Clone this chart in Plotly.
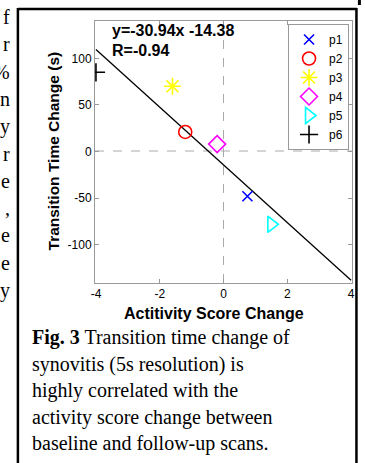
import plotly.graph_objects as go
import numpy as np

# ---- data ----
patients = ["p1", "p2", "p3", "p4", "p5", "p6"]
score_change = [0.75, -1.2, -1.6, -0.2, 1.5, -4.0]
time_change = [-48, 21, 70, 8, -78, 85]
colors = ["#0000ff", "#ff0000", "#ffff00", "#ff00ff", "#00ffff", "#000000"]
symbols = ["x-thin-open", "circle-open", "asterisk-open", "diamond-open",
           "triangle-right-open", "cross-thin-open"]
sizes = [10, 13, 14, 13, 14, 13]
slope = -30.94
intercept = -14.38
r_value = -0.94
x_ticks = [-4, -2, 0, 2, 4]
y_ticks = [-100, -50, 0, 50, 100]
fit_x = [-4, 4]
x_title = "Actitivity Score Change"
y_title = "Transition Time Change (s)"

caption_lines = [
    "<b>Fig. 3</b> Transition time change of",
    "synovitis (5s resolution) is",
    "highly correlated with the",
    "activity score change between",
    "baseline and follow-up scans.",
]
side_letters = ["f", "r", "%", "n", "y", "r", "e", ",", "e", "e", "y"]

# ---- layout geometry ----
W, H = 365, 463
L, R, T, B = 95, 10, 21, 180
PW, PH = W - L - R, H - T - B


def px(x):
    return (x - L) / PW


def py(y):
    return (H - B - y) / PH


fig = go.Figure()

# regression line
fit_y = [slope * v + intercept for v in fit_x]
fig.add_trace(go.Scatter(x=fit_x, y=fit_y, mode="lines",
                         line=dict(color="black", width=1.3),
                         showlegend=False, hoverinfo="skip"))

for name, xv, yv, c, s, sz in zip(patients, score_change, time_change, colors, symbols, sizes):
    fig.add_trace(go.Scatter(
        x=[xv], y=[yv], mode="markers", name=name,
        marker=dict(symbol=s, size=sz, color=c, line=dict(color=c, width=1.6)),
    ))

box = dict(color="black", width=2.5)
shapes = [
    dict(type="line", xref="x", yref="paper", x0=0, x1=0, y0=0, y1=1,
         line=dict(color="#aaaaaa", width=1, dash="dash"), layer="below"),
    dict(type="line", xref="paper", yref="paper", x0=0, x1=1, y0=py(151), y1=py(151),
         line=dict(color="#aaaaaa", width=1, dash="dash"), layer="below"),
    # outer figure box
    dict(type="line", xref="paper", yref="paper", x0=px(17), x1=px(17), y0=py(470), y1=py(8),
         line=box),
    dict(type="line", xref="paper", yref="paper", x0=px(17), x1=px(360), y0=py(9), y1=py(9),
         line=box),
    dict(type="line", xref="paper", yref="paper", x0=px(359.5), x1=px(359.5), y0=py(470), y1=py(8),
         line=box),
    dict(type="line", xref="paper", yref="paper", x0=px(362.5), x1=px(362.5), y0=py(5), y1=py(-2),
         line=dict(color="black", width=3)),
]

annotations = [
    dict(xref="paper", yref="paper", x=px(110), y=py(31), xanchor="left", yanchor="middle",
         text="<b>y=%.2fx %.2f</b>" % (slope, intercept), showarrow=False,
         font=dict(family="Liberation Sans, Arial", size=16, color="black")),
    dict(xref="paper", yref="paper", x=px(110), y=py(50), xanchor="left", yanchor="middle",
         text="<b>R=%.2f</b>" % r_value, showarrow=False,
         font=dict(family="Liberation Sans, Arial", size=16, color="black")),
    dict(xref="paper", yref="paper", x=px(215), y=py(313), xanchor="center", yanchor="middle",
         text="<b>%s</b>" % x_title, showarrow=False,
         font=dict(family="Liberation Sans, Arial", size=16, color="black")),
    dict(xref="paper", yref="paper", x=px(53), y=py(151), xanchor="center", yanchor="middle",
         text="<b>%s</b>" % y_title, showarrow=False, textangle=-90,
         font=dict(family="Liberation Sans, Arial", size=15.5, color="black")),
]
cap_y = [337, 364, 390, 417, 443]
for t, yy in zip(caption_lines, cap_y):
    annotations.append(dict(xref="paper", yref="paper", x=px(29), y=py(yy),
                            xanchor="left", yanchor="middle", text=t, showarrow=False,
                            font=dict(family="Liberation Serif, Times New Roman", size=20,
                                      color="black")))
for i, t in enumerate(side_letters):
    annotations.append(dict(xref="paper", yref="paper", x=px(11), y=py(17 + 27.3 * i),
                            xanchor="right", yanchor="middle", text=t, showarrow=False,
                            font=dict(family="Liberation Serif, Times New Roman", size=20,
                                      color="black")))

axis_common = dict(
    showgrid=False, zeroline=False, showline=True, linecolor="#999999", linewidth=1,
    mirror="ticks", ticks="inside", ticklen=4, tickcolor="#999999",
    tickfont=dict(family="Liberation Sans, Arial", size=12, color="black"),
)

fig.update_layout(
    width=W, height=H, margin=dict(l=L, r=R, t=T, b=B),
    paper_bgcolor="white", plot_bgcolor="white",
    xaxis=dict(range=[-4.03, 4.03], tickvals=x_ticks, ticktext=[str(v) for v in x_ticks],
               **axis_common),
    yaxis=dict(range=[-141, 140], tickvals=y_ticks, ticktext=[str(v) for v in y_ticks],
               **axis_common),
    legend=dict(x=px(352), y=py(24), xanchor="right", yanchor="top", xref="paper", yref="paper",
                bordercolor="#999999", borderwidth=1, bgcolor="white",
                font=dict(family="Liberation Sans, Arial", size=12, color="black"),
                tracegroupgap=0, itemwidth=30),
    shapes=shapes, annotations=annotations,
)

fig.write_html("out.html", config={"displayModeBar": False},
               post_script="document.body.style.margin='0';")
